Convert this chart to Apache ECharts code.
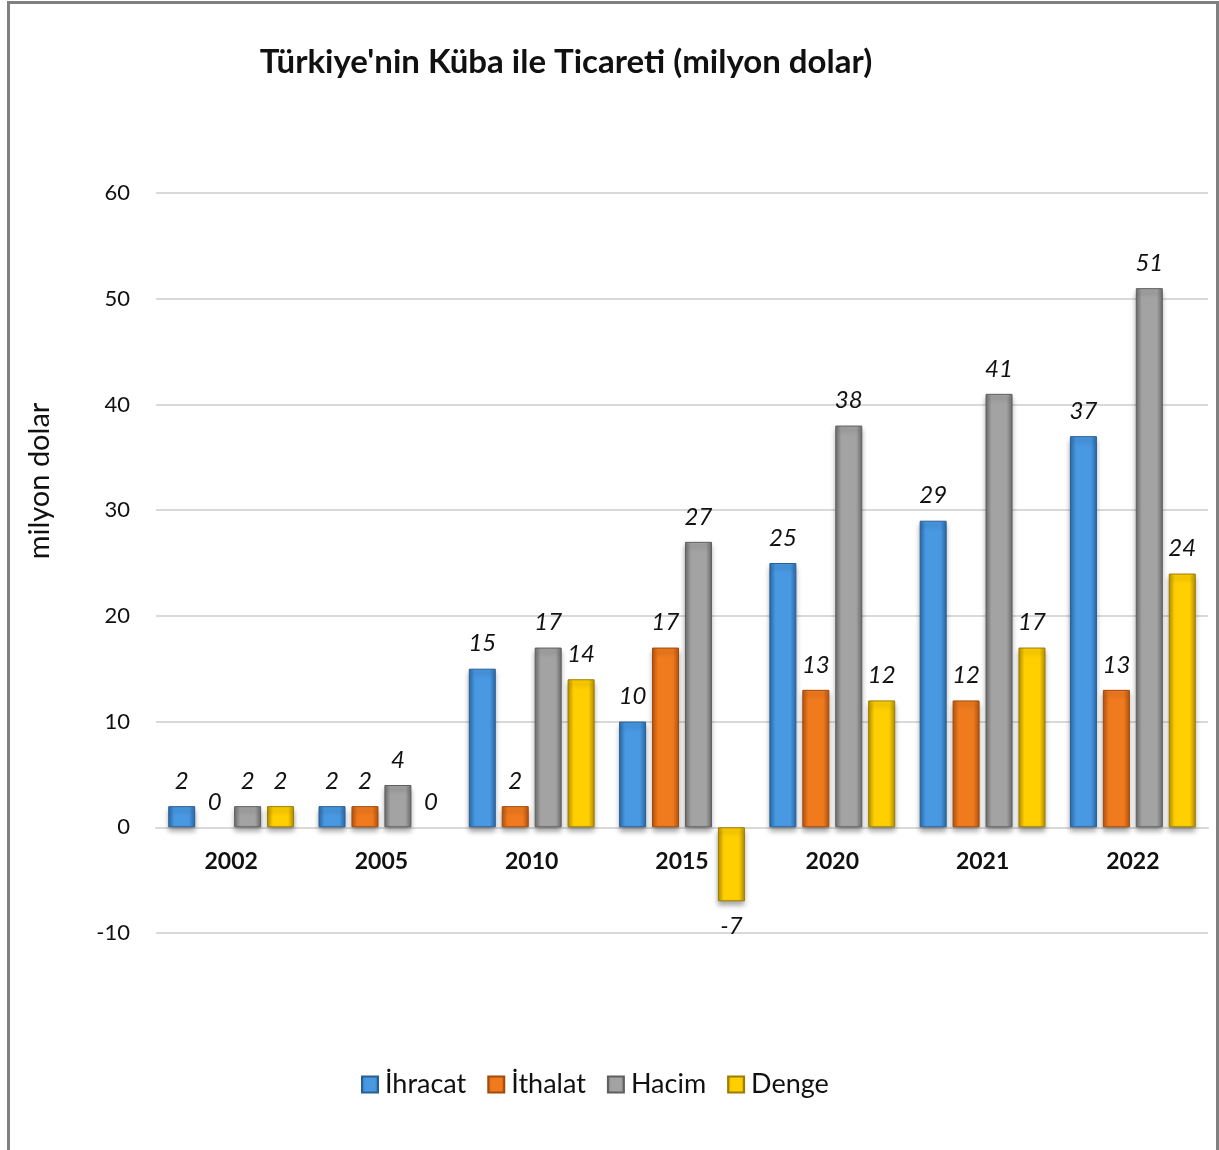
<!DOCTYPE html>
<html>
<head>
<meta charset="utf-8">
<script src="https://cdn.jsdelivr.net/npm/echarts@6/dist/echarts.min.js"></script>
<style>
html,body{margin:0;padding:0;background:#fff;}
#chart{width:1219px;height:1150px;}
</style>
</head>
<body>
<div id="chart"></div>
<script>
const categories = ['2002','2005','2010','2015','2020','2021','2022'];
const ihracat = [2, 2, 15, 10, 25, 29, 37];
const ithalat = [0, 2, 2, 17, 13, 12, 13];
const hacim = [2, 4, 17, 27, 38, 41, 51];
const denge = [2, 0, 14, -7, 12, 17, 24];
const seriesNames = ['İhracat', 'İthalat', 'Hacim', 'Denge'];
const yTicks = {min: -10, max: 60, interval: 10};

const FONT = 'Lato, "Open Sans", sans-serif';

function grad(edge, center) {
  return new echarts.graphic.LinearGradient(0, 0, 1, 0, [
    {offset: 0, color: edge},
    {offset: 0.22, color: center},
    {offset: 0.78, color: center},
    {offset: 1, color: edge}
  ]);
}
const palette = [
  grad('#2b6cab', '#4898e2'),
  grad('#b9560f', '#f07a1e'),
  grad('#6f6f6f', '#a3a3a3'),
  grad('#b99300', '#ffcf00')
];
const borders = ['#2a5f95', '#a24a0c', '#5f5f5f', '#9c7c00'];

// grid geometry (pixels)
const gridTop = 193, gridBottomPx = 933;
const zeroOffset = (gridBottomPx - gridTop) * (0 - yTicks.min) / (yTicks.max - yTicks.min);

function mkSeries(name, data, i) {
  return {
    name: name,
    type: 'bar',
    data: data.map(function (v) {
      const item = {value: v, label: {position: v < 0 ? 'bottom' : 'top'}};
      if (v === 0) item.itemStyle = {borderWidth: 0, shadowBlur: 0, shadowOffsetY: 0, shadowColor: 'transparent'};
      return item;
    }),
    barWidth: 27,
    barGap: '22%',
    itemStyle: {
      color: palette[i],
      borderColor: borders[i],
      borderWidth: 1,
      shadowColor: 'rgba(0,0,0,0.35)',
      shadowBlur: 5,
      shadowOffsetY: 4
    },
    label: {
      show: true,
      distance: 13,
      fontFamily: FONT,
      fontStyle: 'italic',
      fontSize: 24,
      color: '#111'
    }
  };
}

const chart = echarts.init(document.getElementById('chart'), null, {renderer: 'canvas'});
chart.setOption({
  backgroundColor: '#fff',
  animation: false,
  title: {
    text: "Türkiye'nin Küba ile Ticareti (milyon dolar)",
    left: 561,
    top: 41,
    textAlign: 'center',
    textStyle: {fontFamily: FONT, fontWeight: 'bold', fontSize: 33, color: '#111'}
  },
  graphic: [
    {
      type: 'rect',
      z: -1,
      shape: {x: 8.5, y: 2.5, width: 1209, height: 1300},
      style: {fill: 'none', stroke: '#808080', lineWidth: 3}
    },
    {
      type: 'text',
      x: 40,
      y: 481,
      rotation: Math.PI / 2,
      style: {
        text: 'milyon dolar',
        font: '29px ' + FONT,
        fill: '#111',
        align: 'center',
        verticalAlign: 'middle'
      }
    }
  ],
  legend: {
    bottom: 47,
    left: 356,
    itemWidth: 16,
    itemHeight: 16,
    itemGap: 21,
    icon: 'rect',
    textStyle: {fontFamily: FONT, fontSize: 27, color: '#111', padding: [0, 0, 0, 2]},
    data: seriesNames
  },
  grid: {left: 156, right: 11, top: gridTop, bottom: 1150 - gridBottomPx},
  xAxis: {
    type: 'category',
    data: categories,
    offset: -zeroOffset,
    axisLine: {onZero: false, lineStyle: {color: '#d9d9d9', width: 2}},
    axisTick: {show: false},
    axisLabel: {margin: 23, fontFamily: FONT, fontWeight: 'bold', fontSize: 23, color: '#111'}
  },
  yAxis: {
    type: 'value',
    min: yTicks.min,
    max: yTicks.max,
    interval: yTicks.interval,
    axisLine: {show: false},
    axisTick: {show: false},
    splitLine: {lineStyle: {color: '#d9d9d9', width: 2}},
    axisLabel: {margin: 26, fontFamily: FONT, fontSize: 22, color: '#111'}
  },
  series: [
    mkSeries(seriesNames[0], ihracat, 0),
    mkSeries(seriesNames[1], ithalat, 1),
    mkSeries(seriesNames[2], hacim, 2),
    mkSeries(seriesNames[3], denge, 3)
  ]
});
</script>
</body>
</html>
